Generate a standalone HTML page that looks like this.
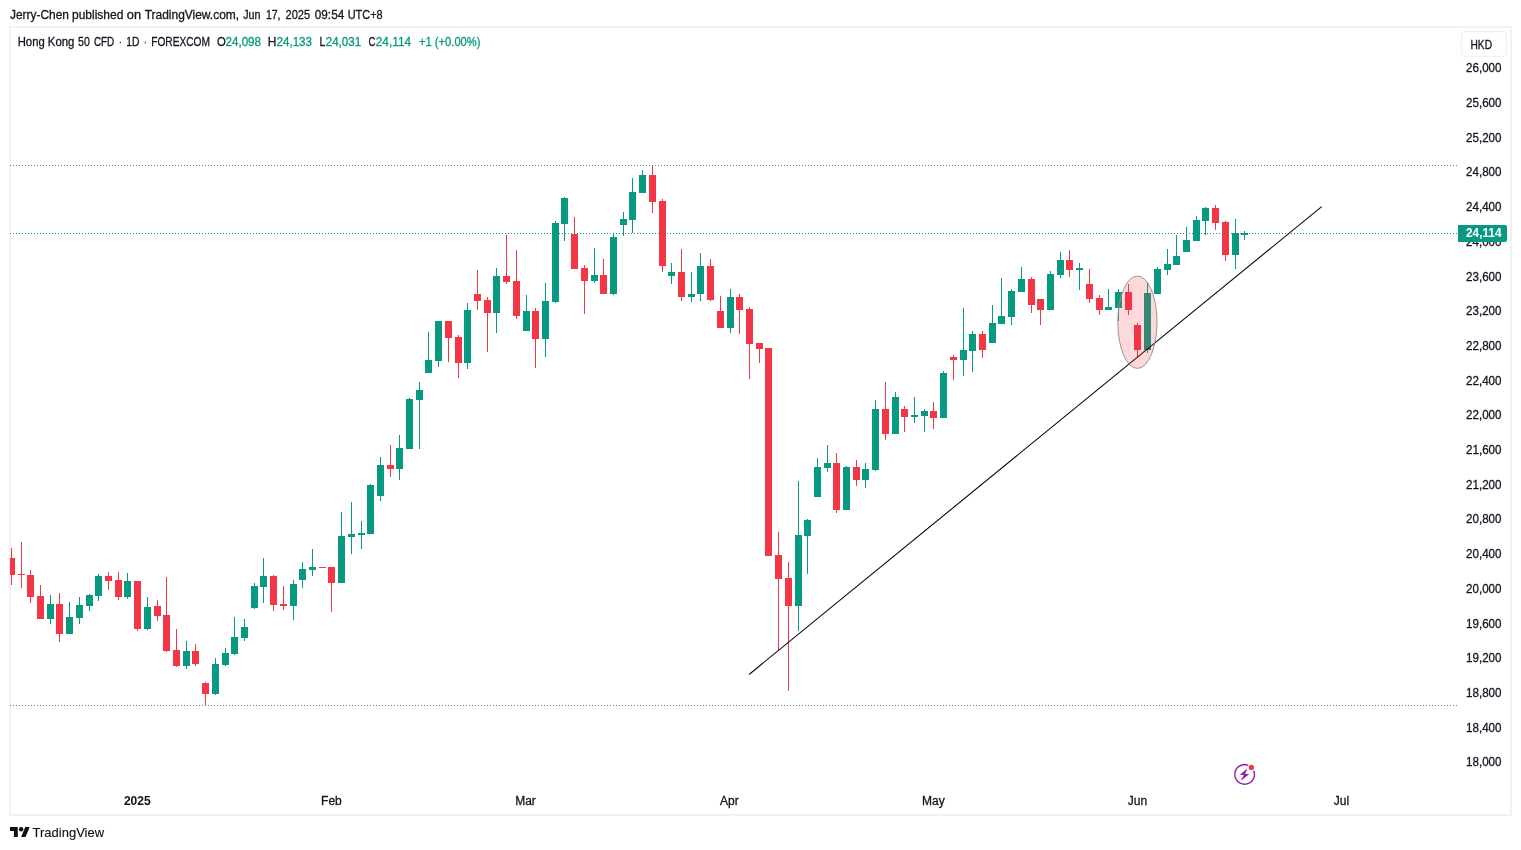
<!DOCTYPE html>
<html lang="en">
<head>
<meta charset="utf-8">
<title>Hong Kong 50 CFD · 1D · FOREXCOM — TradingView</title>
<style>
html,body{margin:0;padding:0;background:#fff;}
body{width:1521px;height:850px;overflow:hidden;font-family:"Liberation Sans",sans-serif;}
svg{display:block;}
text{font-family:"Liberation Sans",sans-serif;font-size:12px;fill:#131722;stroke:#131722;stroke-width:0.3px;}
.g{fill:#089981;stroke:#089981;}
.b{font-weight:bold;stroke-width:0.05px;}
</style>
</head>
<body>
<svg width="1521" height="850" viewBox="0 0 1521 850">
<rect x="0" y="0" width="1521" height="850" fill="#ffffff"/>
<!-- header -->
<text y="19"><tspan x="10.0" textLength="59.0" lengthAdjust="spacingAndGlyphs">Jerry-Chen</tspan> <tspan x="72.0" textLength="51.3" lengthAdjust="spacingAndGlyphs">published</tspan> <tspan x="126.8" textLength="14.3" lengthAdjust="spacingAndGlyphs">on</tspan> <tspan x="144.7" textLength="94.4" lengthAdjust="spacingAndGlyphs">TradingView.com,</tspan> <tspan x="243.2" textLength="17.2" lengthAdjust="spacingAndGlyphs">Jun</tspan> <tspan x="265.9" textLength="14.6" lengthAdjust="spacingAndGlyphs">17,</tspan> <tspan x="285.6" textLength="24.5" lengthAdjust="spacingAndGlyphs">2025</tspan> <tspan x="314.8" textLength="29.4" lengthAdjust="spacingAndGlyphs">09:54</tspan> <tspan x="347.7" textLength="34.9" lengthAdjust="spacingAndGlyphs">UTC+8</tspan></text>
<!-- frame -->
<rect x="10" y="27" width="1501" height="788" fill="#ffffff" stroke="#f2f2f3" stroke-width="2"/>
<!-- legend -->
<text y="46"><tspan x="17.7" textLength="27.0" lengthAdjust="spacingAndGlyphs">Hong</tspan> <tspan x="47.8" textLength="26.6" lengthAdjust="spacingAndGlyphs">Kong</tspan> <tspan x="78.0" textLength="11.8" lengthAdjust="spacingAndGlyphs">50</tspan> <tspan x="93.9" textLength="20.4" lengthAdjust="spacingAndGlyphs">CFD</tspan> <tspan x="119.0" textLength="2.6" lengthAdjust="spacingAndGlyphs">·</tspan> <tspan x="126.2" textLength="13.2" lengthAdjust="spacingAndGlyphs">1D</tspan> <tspan x="144.1" textLength="2.6" lengthAdjust="spacingAndGlyphs">·</tspan> <tspan x="151.2" textLength="58.8" lengthAdjust="spacingAndGlyphs">FOREXCOM</tspan></text>
<text x="217" y="46" textLength="8.8" lengthAdjust="spacingAndGlyphs">O</text><text class="g" x="225.5" y="46" textLength="35.5" lengthAdjust="spacingAndGlyphs">24,098</text>
<text x="267.8" y="46" textLength="8.6" lengthAdjust="spacingAndGlyphs">H</text><text class="g" x="276.5" y="46" textLength="35.5" lengthAdjust="spacingAndGlyphs">24,133</text>
<text x="319.5" y="46" textLength="5.8" lengthAdjust="spacingAndGlyphs">L</text><text class="g" x="325.7" y="46" textLength="35.5" lengthAdjust="spacingAndGlyphs">24,031</text>
<text x="368.5" y="46" textLength="7" lengthAdjust="spacingAndGlyphs">C</text><text class="g" x="375.7" y="46" textLength="35.5" lengthAdjust="spacingAndGlyphs">24,114</text>
<text class="g" x="419" y="46" textLength="61.5" lengthAdjust="spacingAndGlyphs">+1 (+0.00%)</text>
<!-- dotted range lines -->
<g shape-rendering="crispEdges">
<line x1="10" y1="165.5" x2="1457" y2="165.5" stroke="#7c7c80" stroke-width="1" stroke-dasharray="1 2"/>
<line x1="10" y1="705.5" x2="1457" y2="705.5" stroke="#7c7c80" stroke-width="1" stroke-dasharray="1 2"/>
</g>
<!-- candles -->
<g shape-rendering="crispEdges">
<rect x="11" y="548" width="1" height="37" fill="#f23645"/>
<rect x="10" y="558" width="5" height="17" fill="#f23645"/>
<rect x="21" y="542" width="1" height="46" fill="#f23645"/>
<rect x="18" y="574" width="7" height="1" fill="#f23645"/>
<rect x="30" y="570" width="1" height="33" fill="#f23645"/>
<rect x="27" y="575" width="7" height="22" fill="#f23645"/>
<rect x="40" y="585" width="1" height="34" fill="#f23645"/>
<rect x="37" y="596" width="7" height="23" fill="#f23645"/>
<rect x="50" y="595" width="1" height="29" fill="#089981"/>
<rect x="47" y="604" width="7" height="15" fill="#089981"/>
<rect x="59" y="593" width="1" height="49" fill="#f23645"/>
<rect x="56" y="604" width="7" height="30" fill="#f23645"/>
<rect x="69" y="602" width="1" height="32" fill="#089981"/>
<rect x="66" y="617" width="7" height="17" fill="#089981"/>
<rect x="79" y="597" width="1" height="27" fill="#089981"/>
<rect x="76" y="605" width="7" height="13" fill="#089981"/>
<rect x="89" y="594" width="1" height="17" fill="#089981"/>
<rect x="86" y="595" width="7" height="11" fill="#089981"/>
<rect x="98" y="574" width="1" height="27" fill="#089981"/>
<rect x="95" y="576" width="7" height="20" fill="#089981"/>
<rect x="108" y="572" width="1" height="18" fill="#f23645"/>
<rect x="105" y="576" width="7" height="5" fill="#f23645"/>
<rect x="118" y="572" width="1" height="28" fill="#f23645"/>
<rect x="115" y="580" width="7" height="17" fill="#f23645"/>
<rect x="127" y="573" width="1" height="26" fill="#089981"/>
<rect x="124" y="581" width="7" height="16" fill="#089981"/>
<rect x="137" y="581" width="1" height="50" fill="#f23645"/>
<rect x="134" y="581" width="7" height="48" fill="#f23645"/>
<rect x="147" y="597" width="1" height="33" fill="#089981"/>
<rect x="144" y="607" width="7" height="22" fill="#089981"/>
<rect x="157" y="600" width="1" height="21" fill="#f23645"/>
<rect x="154" y="606" width="7" height="10" fill="#f23645"/>
<rect x="166" y="577" width="1" height="75" fill="#f23645"/>
<rect x="163" y="615" width="7" height="36" fill="#f23645"/>
<rect x="176" y="629" width="1" height="38" fill="#f23645"/>
<rect x="173" y="650" width="7" height="16" fill="#f23645"/>
<rect x="186" y="641" width="1" height="28" fill="#089981"/>
<rect x="183" y="651" width="7" height="15" fill="#089981"/>
<rect x="195" y="644" width="1" height="22" fill="#f23645"/>
<rect x="192" y="651" width="7" height="13" fill="#f23645"/>
<rect x="205" y="682" width="1" height="23" fill="#f23645"/>
<rect x="202" y="683" width="7" height="11" fill="#f23645"/>
<rect x="215" y="658" width="1" height="37" fill="#089981"/>
<rect x="212" y="664" width="7" height="30" fill="#089981"/>
<rect x="225" y="648" width="1" height="18" fill="#089981"/>
<rect x="222" y="653" width="7" height="12" fill="#089981"/>
<rect x="234" y="617" width="1" height="38" fill="#089981"/>
<rect x="231" y="637" width="7" height="17" fill="#089981"/>
<rect x="244" y="619" width="1" height="22" fill="#089981"/>
<rect x="241" y="627" width="7" height="11" fill="#089981"/>
<rect x="254" y="583" width="1" height="26" fill="#089981"/>
<rect x="251" y="586" width="7" height="22" fill="#089981"/>
<rect x="263" y="558" width="1" height="45" fill="#089981"/>
<rect x="260" y="576" width="7" height="11" fill="#089981"/>
<rect x="273" y="575" width="1" height="36" fill="#f23645"/>
<rect x="270" y="576" width="7" height="29" fill="#f23645"/>
<rect x="283" y="586" width="1" height="24" fill="#f23645"/>
<rect x="280" y="604" width="7" height="2" fill="#f23645"/>
<rect x="293" y="580" width="1" height="40" fill="#089981"/>
<rect x="290" y="584" width="7" height="22" fill="#089981"/>
<rect x="302" y="562" width="1" height="26" fill="#089981"/>
<rect x="299" y="569" width="7" height="11" fill="#089981"/>
<rect x="312" y="549" width="1" height="27" fill="#089981"/>
<rect x="309" y="567" width="7" height="3" fill="#089981"/>
<rect x="319" y="567" width="7" height="1" fill="#f23645"/>
<rect x="331" y="567" width="1" height="45" fill="#f23645"/>
<rect x="328" y="567" width="7" height="16" fill="#f23645"/>
<rect x="341" y="512" width="1" height="71" fill="#089981"/>
<rect x="338" y="536" width="7" height="47" fill="#089981"/>
<rect x="351" y="502" width="1" height="52" fill="#089981"/>
<rect x="348" y="534" width="7" height="3" fill="#089981"/>
<rect x="361" y="521" width="1" height="28" fill="#089981"/>
<rect x="358" y="533" width="7" height="2" fill="#089981"/>
<rect x="370" y="484" width="1" height="50" fill="#089981"/>
<rect x="367" y="485" width="7" height="49" fill="#089981"/>
<rect x="380" y="457" width="1" height="44" fill="#089981"/>
<rect x="377" y="465" width="7" height="31" fill="#089981"/>
<rect x="390" y="445" width="1" height="32" fill="#f23645"/>
<rect x="387" y="465" width="7" height="4" fill="#f23645"/>
<rect x="399" y="435" width="1" height="45" fill="#089981"/>
<rect x="396" y="448" width="7" height="21" fill="#089981"/>
<rect x="409" y="398" width="1" height="51" fill="#089981"/>
<rect x="406" y="399" width="7" height="50" fill="#089981"/>
<rect x="419" y="382" width="1" height="67" fill="#089981"/>
<rect x="416" y="390" width="7" height="10" fill="#089981"/>
<rect x="428" y="332" width="1" height="41" fill="#089981"/>
<rect x="425" y="360" width="7" height="13" fill="#089981"/>
<rect x="438" y="321" width="1" height="46" fill="#089981"/>
<rect x="435" y="321" width="7" height="40" fill="#089981"/>
<rect x="448" y="321" width="1" height="41" fill="#f23645"/>
<rect x="445" y="321" width="7" height="17" fill="#f23645"/>
<rect x="458" y="335" width="1" height="43" fill="#f23645"/>
<rect x="455" y="337" width="7" height="26" fill="#f23645"/>
<rect x="467" y="303" width="1" height="66" fill="#089981"/>
<rect x="464" y="310" width="7" height="53" fill="#089981"/>
<rect x="477" y="270" width="1" height="40" fill="#f23645"/>
<rect x="474" y="294" width="7" height="7" fill="#f23645"/>
<rect x="487" y="297" width="1" height="55" fill="#f23645"/>
<rect x="484" y="300" width="7" height="13" fill="#f23645"/>
<rect x="496" y="268" width="1" height="65" fill="#089981"/>
<rect x="493" y="276" width="7" height="37" fill="#089981"/>
<rect x="506" y="235" width="1" height="49" fill="#f23645"/>
<rect x="503" y="276" width="7" height="6" fill="#f23645"/>
<rect x="516" y="250" width="1" height="69" fill="#f23645"/>
<rect x="513" y="281" width="7" height="35" fill="#f23645"/>
<rect x="526" y="295" width="1" height="36" fill="#089981"/>
<rect x="523" y="311" width="7" height="20" fill="#089981"/>
<rect x="535" y="308" width="1" height="60" fill="#f23645"/>
<rect x="532" y="311" width="7" height="28" fill="#f23645"/>
<rect x="545" y="283" width="1" height="74" fill="#089981"/>
<rect x="542" y="301" width="7" height="38" fill="#089981"/>
<rect x="555" y="221" width="1" height="82" fill="#089981"/>
<rect x="552" y="223" width="7" height="79" fill="#089981"/>
<rect x="564" y="197" width="1" height="44" fill="#089981"/>
<rect x="561" y="198" width="7" height="26" fill="#089981"/>
<rect x="574" y="217" width="1" height="52" fill="#f23645"/>
<rect x="571" y="234" width="7" height="35" fill="#f23645"/>
<rect x="584" y="265" width="1" height="49" fill="#f23645"/>
<rect x="581" y="268" width="7" height="13" fill="#f23645"/>
<rect x="594" y="248" width="1" height="35" fill="#089981"/>
<rect x="591" y="275" width="7" height="6" fill="#089981"/>
<rect x="603" y="259" width="1" height="35" fill="#f23645"/>
<rect x="600" y="275" width="7" height="19" fill="#f23645"/>
<rect x="613" y="233" width="1" height="62" fill="#089981"/>
<rect x="610" y="237" width="7" height="57" fill="#089981"/>
<rect x="623" y="212" width="1" height="24" fill="#089981"/>
<rect x="620" y="219" width="7" height="6" fill="#089981"/>
<rect x="632" y="178" width="1" height="55" fill="#089981"/>
<rect x="629" y="192" width="7" height="28" fill="#089981"/>
<rect x="642" y="170" width="1" height="23" fill="#089981"/>
<rect x="639" y="175" width="7" height="18" fill="#089981"/>
<rect x="652" y="165" width="1" height="48" fill="#f23645"/>
<rect x="649" y="175" width="7" height="27" fill="#f23645"/>
<rect x="662" y="199" width="1" height="73" fill="#f23645"/>
<rect x="659" y="201" width="7" height="65" fill="#f23645"/>
<rect x="671" y="263" width="1" height="21" fill="#089981"/>
<rect x="668" y="272" width="7" height="4" fill="#089981"/>
<rect x="681" y="249" width="1" height="52" fill="#f23645"/>
<rect x="678" y="272" width="7" height="25" fill="#f23645"/>
<rect x="691" y="272" width="1" height="30" fill="#089981"/>
<rect x="688" y="294" width="7" height="3" fill="#089981"/>
<rect x="700" y="253" width="1" height="48" fill="#089981"/>
<rect x="697" y="266" width="7" height="28" fill="#089981"/>
<rect x="710" y="259" width="1" height="42" fill="#f23645"/>
<rect x="707" y="266" width="7" height="34" fill="#f23645"/>
<rect x="720" y="296" width="1" height="32" fill="#f23645"/>
<rect x="717" y="311" width="7" height="17" fill="#f23645"/>
<rect x="730" y="289" width="1" height="44" fill="#089981"/>
<rect x="727" y="297" width="7" height="31" fill="#089981"/>
<rect x="739" y="294" width="1" height="40" fill="#f23645"/>
<rect x="736" y="297" width="7" height="13" fill="#f23645"/>
<rect x="749" y="307" width="1" height="72" fill="#f23645"/>
<rect x="746" y="309" width="7" height="35" fill="#f23645"/>
<rect x="759" y="343" width="1" height="20" fill="#f23645"/>
<rect x="756" y="343" width="7" height="6" fill="#f23645"/>
<rect x="765" y="348" width="7" height="208" fill="#f23645"/>
<rect x="778" y="532" width="1" height="118" fill="#f23645"/>
<rect x="775" y="555" width="7" height="24" fill="#f23645"/>
<rect x="788" y="562" width="1" height="129" fill="#f23645"/>
<rect x="785" y="578" width="7" height="28" fill="#f23645"/>
<rect x="798" y="481" width="1" height="150" fill="#089981"/>
<rect x="795" y="535" width="7" height="71" fill="#089981"/>
<rect x="807" y="519" width="1" height="55" fill="#089981"/>
<rect x="804" y="520" width="7" height="16" fill="#089981"/>
<rect x="817" y="458" width="1" height="39" fill="#089981"/>
<rect x="814" y="467" width="7" height="30" fill="#089981"/>
<rect x="827" y="445" width="1" height="27" fill="#089981"/>
<rect x="824" y="463" width="7" height="5" fill="#089981"/>
<rect x="836" y="453" width="1" height="60" fill="#f23645"/>
<rect x="833" y="463" width="7" height="47" fill="#f23645"/>
<rect x="846" y="466" width="1" height="44" fill="#089981"/>
<rect x="843" y="467" width="7" height="43" fill="#089981"/>
<rect x="856" y="460" width="1" height="26" fill="#f23645"/>
<rect x="853" y="467" width="7" height="13" fill="#f23645"/>
<rect x="865" y="463" width="1" height="25" fill="#089981"/>
<rect x="862" y="469" width="7" height="11" fill="#089981"/>
<rect x="875" y="400" width="1" height="71" fill="#089981"/>
<rect x="872" y="409" width="7" height="61" fill="#089981"/>
<rect x="885" y="382" width="1" height="58" fill="#f23645"/>
<rect x="882" y="409" width="7" height="25" fill="#f23645"/>
<rect x="895" y="392" width="1" height="42" fill="#089981"/>
<rect x="892" y="397" width="7" height="37" fill="#089981"/>
<rect x="904" y="406" width="1" height="26" fill="#f23645"/>
<rect x="901" y="409" width="7" height="8" fill="#f23645"/>
<rect x="914" y="397" width="1" height="26" fill="#089981"/>
<rect x="911" y="415" width="7" height="2" fill="#089981"/>
<rect x="924" y="409" width="1" height="23" fill="#089981"/>
<rect x="921" y="411" width="7" height="5" fill="#089981"/>
<rect x="933" y="402" width="1" height="27" fill="#f23645"/>
<rect x="930" y="411" width="7" height="7" fill="#f23645"/>
<rect x="943" y="371" width="1" height="47" fill="#089981"/>
<rect x="940" y="373" width="7" height="45" fill="#089981"/>
<rect x="953" y="355" width="1" height="25" fill="#f23645"/>
<rect x="950" y="357" width="7" height="3" fill="#f23645"/>
<rect x="963" y="308" width="1" height="68" fill="#089981"/>
<rect x="960" y="350" width="7" height="10" fill="#089981"/>
<rect x="972" y="331" width="1" height="41" fill="#089981"/>
<rect x="969" y="334" width="7" height="17" fill="#089981"/>
<rect x="982" y="331" width="1" height="27" fill="#f23645"/>
<rect x="979" y="334" width="7" height="16" fill="#f23645"/>
<rect x="992" y="305" width="1" height="38" fill="#089981"/>
<rect x="989" y="323" width="7" height="20" fill="#089981"/>
<rect x="1001" y="278" width="1" height="46" fill="#089981"/>
<rect x="998" y="316" width="7" height="8" fill="#089981"/>
<rect x="1011" y="289" width="1" height="36" fill="#089981"/>
<rect x="1008" y="291" width="7" height="26" fill="#089981"/>
<rect x="1021" y="267" width="1" height="25" fill="#089981"/>
<rect x="1018" y="279" width="7" height="13" fill="#089981"/>
<rect x="1031" y="277" width="1" height="36" fill="#f23645"/>
<rect x="1028" y="279" width="7" height="26" fill="#f23645"/>
<rect x="1040" y="299" width="1" height="26" fill="#f23645"/>
<rect x="1037" y="299" width="7" height="11" fill="#f23645"/>
<rect x="1050" y="271" width="1" height="39" fill="#089981"/>
<rect x="1047" y="274" width="7" height="36" fill="#089981"/>
<rect x="1060" y="252" width="1" height="26" fill="#089981"/>
<rect x="1057" y="260" width="7" height="15" fill="#089981"/>
<rect x="1069" y="250" width="1" height="27" fill="#f23645"/>
<rect x="1066" y="260" width="7" height="10" fill="#f23645"/>
<rect x="1079" y="263" width="1" height="27" fill="#089981"/>
<rect x="1076" y="268" width="7" height="2" fill="#089981"/>
<rect x="1089" y="269" width="1" height="34" fill="#f23645"/>
<rect x="1086" y="284" width="7" height="15" fill="#f23645"/>
<rect x="1099" y="295" width="1" height="20" fill="#f23645"/>
<rect x="1096" y="298" width="7" height="12" fill="#f23645"/>
<rect x="1108" y="289" width="1" height="21" fill="#089981"/>
<rect x="1105" y="307" width="7" height="3" fill="#089981"/>
<rect x="1118" y="289" width="1" height="32" fill="#089981"/>
<rect x="1115" y="292" width="7" height="16" fill="#089981"/>
<rect x="1128" y="284" width="1" height="31" fill="#f23645"/>
<rect x="1125" y="292" width="7" height="18" fill="#f23645"/>
<rect x="1137" y="323" width="1" height="34" fill="#f23645"/>
<rect x="1134" y="325" width="7" height="25" fill="#f23645"/>
<rect x="1147" y="283" width="1" height="70" fill="#089981"/>
<rect x="1144" y="293" width="7" height="57" fill="#089981"/>
<rect x="1157" y="267" width="1" height="27" fill="#089981"/>
<rect x="1154" y="269" width="7" height="25" fill="#089981"/>
<rect x="1167" y="249" width="1" height="26" fill="#089981"/>
<rect x="1164" y="264" width="7" height="6" fill="#089981"/>
<rect x="1176" y="235" width="1" height="30" fill="#089981"/>
<rect x="1173" y="256" width="7" height="9" fill="#089981"/>
<rect x="1186" y="227" width="1" height="25" fill="#089981"/>
<rect x="1183" y="240" width="7" height="12" fill="#089981"/>
<rect x="1196" y="216" width="1" height="25" fill="#089981"/>
<rect x="1193" y="220" width="7" height="21" fill="#089981"/>
<rect x="1205" y="207" width="1" height="28" fill="#089981"/>
<rect x="1202" y="208" width="7" height="13" fill="#089981"/>
<rect x="1215" y="205" width="1" height="25" fill="#f23645"/>
<rect x="1212" y="208" width="7" height="15" fill="#f23645"/>
<rect x="1225" y="221" width="1" height="40" fill="#f23645"/>
<rect x="1222" y="222" width="7" height="33" fill="#f23645"/>
<rect x="1235" y="219" width="1" height="50" fill="#089981"/>
<rect x="1232" y="233" width="7" height="22" fill="#089981"/>
<rect x="1244" y="231" width="1" height="9" fill="#089981"/>
<rect x="1241" y="233" width="7" height="2" fill="#089981"/>
</g>
<!-- price line -->
<g shape-rendering="crispEdges">
<line x1="10" y1="233.5" x2="1458" y2="233.5" stroke="#089981" stroke-width="1" stroke-dasharray="1 2"/>
</g>
<!-- trend line -->
<line x1="749.1" y1="674.45" x2="1321.7" y2="206.6" stroke="#060607" stroke-width="1.1"/>
<!-- ellipse highlight -->
<ellipse cx="1137.4" cy="322.2" rx="19.6" ry="46.2" fill="rgba(242,54,69,0.19)" stroke="#958f90" stroke-width="0.95"/>
<!-- price axis -->
<rect x="1461.5" y="31.4" width="45" height="25" rx="4" ry="4" fill="#fff" stroke="#f2f2f3" stroke-width="1.5"/>
<text x="1470.5" y="49" textLength="21.5" lengthAdjust="spacingAndGlyphs">HKD</text>
<text x="1466" y="72.3" textLength="35.5" lengthAdjust="spacingAndGlyphs">26,000</text>
<text x="1466" y="107.0" textLength="35.5" lengthAdjust="spacingAndGlyphs">25,600</text>
<text x="1466" y="141.7" textLength="35.5" lengthAdjust="spacingAndGlyphs">25,200</text>
<text x="1466" y="176.4" textLength="35.5" lengthAdjust="spacingAndGlyphs">24,800</text>
<text x="1466" y="211.1" textLength="35.5" lengthAdjust="spacingAndGlyphs">24,400</text>
<text x="1466" y="245.8" textLength="35.5" lengthAdjust="spacingAndGlyphs">24,000</text>
<text x="1466" y="280.5" textLength="35.5" lengthAdjust="spacingAndGlyphs">23,600</text>
<text x="1466" y="315.2" textLength="35.5" lengthAdjust="spacingAndGlyphs">23,200</text>
<text x="1466" y="349.9" textLength="35.5" lengthAdjust="spacingAndGlyphs">22,800</text>
<text x="1466" y="384.6" textLength="35.5" lengthAdjust="spacingAndGlyphs">22,400</text>
<text x="1466" y="419.3" textLength="35.5" lengthAdjust="spacingAndGlyphs">22,000</text>
<text x="1466" y="454.0" textLength="35.5" lengthAdjust="spacingAndGlyphs">21,600</text>
<text x="1466" y="488.7" textLength="35.5" lengthAdjust="spacingAndGlyphs">21,200</text>
<text x="1466" y="523.4" textLength="35.5" lengthAdjust="spacingAndGlyphs">20,800</text>
<text x="1466" y="558.1" textLength="35.5" lengthAdjust="spacingAndGlyphs">20,400</text>
<text x="1466" y="592.8" textLength="35.5" lengthAdjust="spacingAndGlyphs">20,000</text>
<text x="1466" y="627.5" textLength="35.5" lengthAdjust="spacingAndGlyphs">19,600</text>
<text x="1466" y="662.2" textLength="35.5" lengthAdjust="spacingAndGlyphs">19,200</text>
<text x="1466" y="696.9" textLength="35.5" lengthAdjust="spacingAndGlyphs">18,800</text>
<text x="1466" y="731.6" textLength="35.5" lengthAdjust="spacingAndGlyphs">18,400</text>
<text x="1466" y="766.3" textLength="35.5" lengthAdjust="spacingAndGlyphs">18,000</text>
<path d="M1458 225h47a2 2 0 0 1 2 2v13a2 2 0 0 1 -2 2h-47z" fill="#089981"/>
<text class="b" x="1466" y="237.3" style="fill:#fff;stroke:#fff" textLength="35.5" lengthAdjust="spacingAndGlyphs">24,114</text>
<!-- time axis -->
<text class="b" x="137.3" y="805" text-anchor="middle">2025</text>
<text x="331.4" y="805" text-anchor="middle">Feb</text>
<text x="525.5" y="805" text-anchor="middle">Mar</text>
<text x="729.3" y="805" text-anchor="middle">Apr</text>
<text x="933.4" y="805" text-anchor="middle">May</text>
<text x="1137.4" y="805" text-anchor="middle">Jun</text>
<text x="1341.4" y="805" text-anchor="middle">Jul</text>
<!-- lightning icon -->
<g fill="none" stroke="#9118ab" stroke-width="1.4" stroke-linecap="round">
<path d="M1253.9 771.2 A9.8 9.8 0 1 1 1247.7 765.1"/>
</g>
<path d="M1246.6 770.0 L1241.5 774.2 L1247.7 774.5 L1241.8 779.3" fill="none" stroke="#9118ab" stroke-width="1.15" stroke-linejoin="miter" stroke-linecap="round"/>
<path d="M1246.7 769.8 L1240.6 774.4 L1244.0 774.8 L1241.6 779.6 L1248.6 774.3 L1245.0 773.9 Z" fill="#9118ab"/>
<circle cx="1251.4" cy="767.4" r="2.6" fill="#f23645"/>
<!-- TradingView logo -->
<g transform="translate(10,824.8) scale(0.556)" fill="#0e0f14">
<path d="M14 22H7V11H0V4h14v18zM28 22h-8l7.5-18h8L28 22z"/>
<circle cx="20" cy="8" r="4"/>
</g>
<text x="32.6" y="837" style="font-size:13px;stroke-width:0.12px;fill:#0e0f14" textLength="71.5" lengthAdjust="spacingAndGlyphs">TradingView</text>
</svg>
</body>
</html>
